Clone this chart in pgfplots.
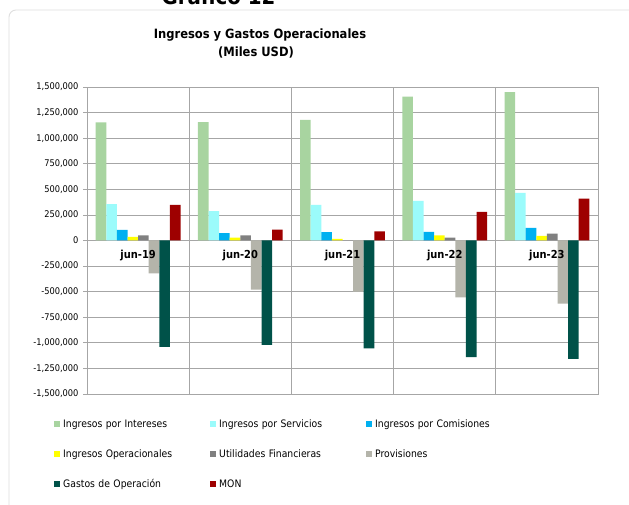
\documentclass[border=0pt]{standalone}
\usepackage{pgfplots}
\usepackage{pgfplotstable}
\pgfplotsset{compat=1.18}
\usepackage{fontspec}
\setmainfont{DejaVu Sans Condensed}

\definecolor{cInt}{HTML}{A8D4A0}
\definecolor{cServ}{HTML}{9BFBFB}
\definecolor{cCom}{HTML}{00B0F0}
\definecolor{cOper}{HTML}{FFFF00}
\definecolor{cUtil}{HTML}{808080}
\definecolor{cProv}{HTML}{B4B4AA}
\definecolor{cGast}{HTML}{005249}
\definecolor{cMon}{HTML}{9E0000}
\definecolor{cGrid}{HTML}{A6A6A6}

% Miles USD, one row per period (0 = jun-19 ... 4 = jun-23)
\pgfplotstableread{
x  int     serv   com    oper   util   prov     gast      mon
0  1155000 355000 104000 36000  49000  -322000  -1040000  349000
1  1156000 287000 72000  29000  49000  -479000  -1020000  107000
2  1179000 349000 81000  16000  2000   -500000  -1055000  88000
3  1407000 388000 85000  49000  29000  -557000  -1140000  280000
4  1450000 466000 124000 46000  68000  -616000  -1156000  410000
}\datos

\begin{document}
\begin{tikzpicture}[x=1pt,y=1pt]
\useasboundingbox (0,0) rectangle (629,505);
\clip (0,0) rectangle (629,505);
\fill[white] (0,0) rectangle (629,505);
% frame of the chart area
\draw[gray!25, line width=0.9pt, rounded corners=7pt] (9,-20) -- (9,495) -- (650,495);
\node[anchor=base, font=\bfseries\fontsize{22}{24}\selectfont] at (218.5,500) {Gráfico 12};
\node[anchor=base, font=\bfseries\fontsize{12.8}{15}\selectfont] at (260,466) {Ingresos y Gastos Operacionales};
\node[anchor=base, font=\bfseries\fontsize{12.8}{15}\selectfont] at (256,448) {(Miles USD)};

\begin{axis}[
  at={(87pt,111pt)}, anchor=south west,
  scale only axis, width=511pt, height=307pt,
  xmin=-0.5, xmax=4.5,
  ymin=-1500000, ymax=1500000,
  ybar=0pt, bar width=10.6pt,
  xtick={0.5,1.5,2.5,3.5}, xticklabels={},
  x tick style={draw=none},
  xmajorgrids, ymajorgrids,
  grid style={cGrid, line width=0.7pt},
  axis line style={cGrid, line width=0.7pt},
  ytick={-1500000,-1250000,-1000000,-750000,-500000,-250000,0,250000,500000,750000,1000000,1250000,1500000},
  scaled y ticks=false,
  y tick style={cGrid, line width=0.7pt},
  tick align=outside, major tick length=4pt,
  ytick pos=left,
  yticklabel style={font=\fontsize{9.2}{11}\selectfont, xshift=-1pt,
    /pgf/number format/.cd, fixed, precision=0, 1000 sep={,}, assume math mode=true},
  legend image code/.code={\fill[#1, draw=none] (0pt,-3pt) rectangle (6pt,3pt);},
  legend columns=3,
  legend style={draw=none, fill=none, at={(-0.0704,-0.0749)}, anchor=north west,
    column sep=3pt, row sep=19.5pt,
    font=\fontsize{10.3}{12}\selectfont,
    nodes={inner sep=0pt, text height=8pt, text depth=2.5pt},
    /tikz/every even column/.append style={text width=144pt}},
  legend cell align=left,
  every axis plot/.append style={draw=none},
]
\addplot[fill=cInt]  table[x=x, y=int]  {\datos};
\addplot[fill=cServ] table[x=x, y=serv] {\datos};
\addplot[fill=cCom]  table[x=x, y=com]  {\datos};
\addplot[fill=cOper] table[x=x, y=oper] {\datos};
\addplot[fill=cUtil] table[x=x, y=util] {\datos};
\addplot[fill=cProv] table[x=x, y=prov] {\datos};
\addplot[fill=cGast] table[x=x, y=gast] {\datos};
\addplot[fill=cMon]  table[x=x, y=mon]  {\datos};
\legend{Ingresos por Intereses, Ingresos por Servicios, Ingresos por Comisiones,
  Ingresos Operacionales, Utilidades Financieras, Provisiones,
  Gastos de Operación, MON}
\foreach \i/\lab in {0/jun-19,1/jun-20,2/jun-21,3/jun-22,4/jun-23}{
  \edef\tmp{\noexpand\node[font=\noexpand\bfseries\noexpand\fontsize{11}{13}\noexpand\selectfont, yshift=-15.5pt]
    at (axis cs:\i,0) {\lab};}\tmp
}
\end{axis}
\end{tikzpicture}
\end{document}
